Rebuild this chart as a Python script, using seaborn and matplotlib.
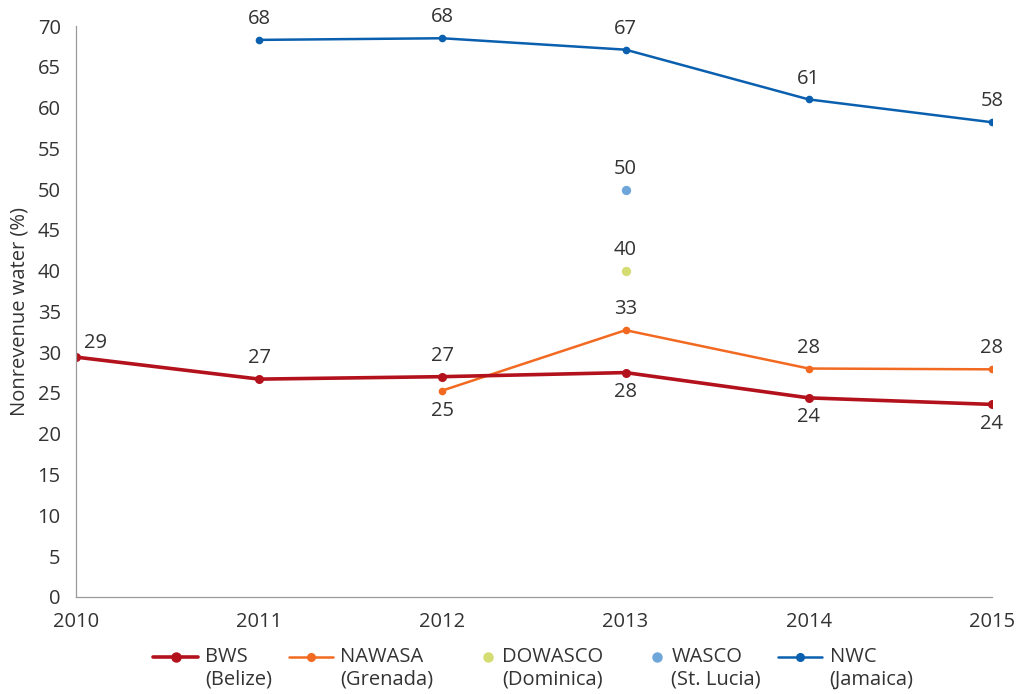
import numpy as np
import pandas as pd
import matplotlib
matplotlib.use("Agg")
import matplotlib.pyplot as plt
import seaborn as sns
from matplotlib.lines import Line2D
from matplotlib.legend_handler import HandlerLine2D

years = [2010, 2011, 2012, 2013, 2014, 2015]
bws = [29.4, 26.7, 27.0, 27.5, 24.4, 23.6]
nawasa = [np.nan, np.nan, 25.3, 32.7, 28.0, 27.9]
dowasco = [np.nan, np.nan, np.nan, 40.0, np.nan, np.nan]
wasco = [np.nan, np.nan, np.nan, 49.9, np.nan, np.nan]
nwc = [np.nan, 68.3, 68.5, 67.1, 61.0, 58.2]

names = ["BWS\n(Belize)", "NAWASA\n(Grenada)", "DOWASCO\n(Dominica)", "WASCO\n(St. Lucia)", "NWC\n(Jamaica)"]
colors = ["#b3121d", "#f26a21", "#d5dc72", "#6fa6da", "#0a60ae"]

sns.set_style("white")
plt.rcParams["font.family"] = ["Open Sans", "DejaVu Sans"]
txt = "#333333"
fs = 14.5

fig = plt.figure(figsize=(10.2, 6.94), dpi=100)
ax = fig.add_axes([0.0745, 0.14, 0.898, 0.8225])

df = pd.DataFrame({"year": years, "BWS": bws, "NAWASA": nawasa,
                   "DOWASCO": dowasco, "WASCO": wasco, "NWC": nwc})

for col, c in zip(["NWC", "NAWASA", "BWS"], [colors[4], colors[1], colors[0]]):
    d = df[["year", col]].dropna()
    lw = 2.6 if col == "BWS" else 1.8
    sns.lineplot(data=d, x="year", y=col, color=c, lw=lw, marker="o",
                 markersize=6.5 if col == "BWS" else 5.5, markeredgewidth=0, ax=ax)
for col, c in zip(["DOWASCO", "WASCO"], [colors[2], colors[3]]):
    d = df[["year", col]].dropna()
    sns.scatterplot(data=d, x="year", y=col, color=c, s=45, linewidth=0, ax=ax)

# data labels
def lab(x, y, dy, ha="center", dx=0):
    ax.annotate(f"{round(y):.0f}", (x, y), xytext=(dx, dy), textcoords="offset points",
                ha=ha, va="center", fontsize=fs, color=txt)

for i, (x, y) in enumerate(zip(years, bws)):
    if i == 0:
        lab(x, y, 10, ha="left", dx=6)
    elif x <= 2012:
        lab(x, y, 15)
    else:
        lab(x, y, -14)
for x, y in zip(years, nawasa):
    if np.isnan(y):
        continue
    lab(x, y, -15 if x == 2012 else 15)
lab(2013, 40.0, 15)
lab(2013, 49.9, 15)
for x, y in zip(years, nwc):
    if not np.isnan(y):
        lab(x, y, 15)

ax.set_xlim(2010, 2015)
ax.set_ylim(0, 70)
ax.set_yticks(range(0, 71, 5))
ax.set_xticks(years)
ax.set_xlabel("")
ax.set_ylabel("Nonrevenue water (%)", fontsize=fs, color=txt, labelpad=6)
ax.tick_params(axis="both", labelsize=fs, labelcolor=txt, length=6, width=0.8, direction="out",
               color="#9a9a9a")
ax.tick_params(axis="y", pad=5)
ax.tick_params(axis="x", pad=5)
for s in ["top", "right"]:
    ax.spines[s].set_visible(False)
for s in ["left", "bottom"]:
    ax.spines[s].set_color("#9a9a9a")
    ax.spines[s].set_linewidth(0.9)


class ShiftHandler(HandlerLine2D):
    # line up the handle with the first text line, lone dots sit near the label
    def __init__(self, dx=0.0, dy=0.0, **kw):
        super().__init__(**kw)
        self.dx, self.dy = dx, dy

    def create_artists(self, legend, orig_handle, xdescent, ydescent, width, height, fontsize, trans):
        arts = super().create_artists(legend, orig_handle, xdescent, ydescent, width, height,
                                      fontsize, trans)
        for a in arts:
            a.set_xdata(np.asarray(a.get_xdata()) + width * self.dx)
            a.set_ydata(np.asarray(a.get_ydata()) + self.dy)
        return arts


handles = [
    Line2D([], [], color=colors[0], lw=2.6, marker="o", markersize=6.5),
    Line2D([], [], color=colors[1], lw=1.8, marker="o", markersize=5.5),
    Line2D([], [], color=colors[2], lw=0, marker="o", markersize=6.5),
    Line2D([], [], color=colors[3], lw=0, marker="o", markersize=6.5),
    Line2D([], [], color=colors[4], lw=1.8, marker="o", markersize=5.5),
]
shift_y = 8.5
hmap = {h: ShiftHandler(dy=shift_y) for h in handles}
hmap[handles[2]] = ShiftHandler(dx=0.34, dy=shift_y)
hmap[handles[3]] = ShiftHandler(dx=0.34, dy=shift_y)
leg = fig.legend(handles, names, loc="lower center", bbox_to_anchor=(0.523, -0.02), ncol=5,
                 frameon=False, fontsize=fs, handlelength=2.2, columnspacing=0.85,
                 handletextpad=0.35, handler_map=hmap)
for t in leg.get_texts():
    t.set_color(txt)
    t.set_linespacing(1.2)

fig.savefig("out.png", dpi=100)
